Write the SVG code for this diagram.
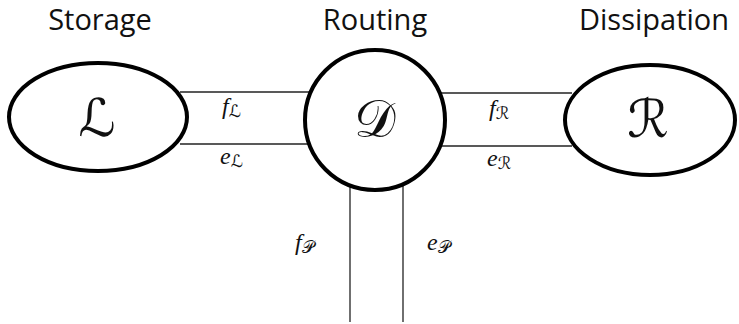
<svg xmlns="http://www.w3.org/2000/svg" width="739" height="324" viewBox="0 0 739 324">
<style>
.node{fill:#fff;stroke:#000;stroke-width:4}
.wire{stroke:#222;stroke-width:1.3;fill:none}
.title{font-family:"Open Sans","Noto Sans",sans-serif;font-size:29px;fill:#111;text-anchor:middle}
.big{font-family:"DejaVu Serif","DejaVu Sans",serif;font-size:52px;fill:#111;text-anchor:middle}
.lab{font-family:"Liberation Serif",serif;font-style:italic;font-size:24px;fill:#111}
.sub{font-family:"DejaVu Serif","DejaVu Sans",serif;font-style:normal;font-size:17px}
</style>
<rect width="739" height="324" fill="#fff"/>
<g id="connectors">
<line class="wire" x1="180" y1="92" x2="312" y2="92"/>
<line class="wire" x1="180" y1="144" x2="312" y2="144"/>
<line class="wire" x1="440" y1="93" x2="572" y2="93"/>
<line class="wire" x1="440" y1="146" x2="572" y2="146"/>
<line class="wire" x1="350" y1="185" x2="350" y2="322"/>
<line class="wire" x1="403" y1="185" x2="403" y2="322"/>
<text class="lab" x="222" y="114">f<tspan class="sub" dy="3">ℒ</tspan></text>
<text class="lab" x="220" y="164">e<tspan class="sub" dy="3">ℒ</tspan></text>
<text class="lab" x="489" y="116">f<tspan class="sub" dy="3">ℛ</tspan></text>
<text class="lab" x="487" y="166">e<tspan class="sub" dy="3">ℛ</tspan></text>
<text class="lab" x="295" y="250">f<tspan class="sub" dy="3">𝒫</tspan></text>
<text class="lab" x="427" y="250">e<tspan class="sub" dy="3">𝒫</tspan></text>
</g>
<g id="storage">
<text class="title" x="100" y="30">Storage</text>
<ellipse class="node" cx="98" cy="117" rx="89" ry="54"/>
<text class="big" x="97" y="136">ℒ</text>
</g>
<g id="routing">
<text class="title" x="375" y="30">Routing</text>
<circle class="node" cx="375" cy="120" r="70"/>
<text class="big" x="375" y="137">𝒟</text>
</g>
<g id="dissipation">
<text class="title" x="654" y="30">Dissipation</text>
<ellipse class="node" cx="650" cy="120" rx="85" ry="55"/>
<text class="big" x="648" y="137">ℛ</text>
</g>
</svg>
